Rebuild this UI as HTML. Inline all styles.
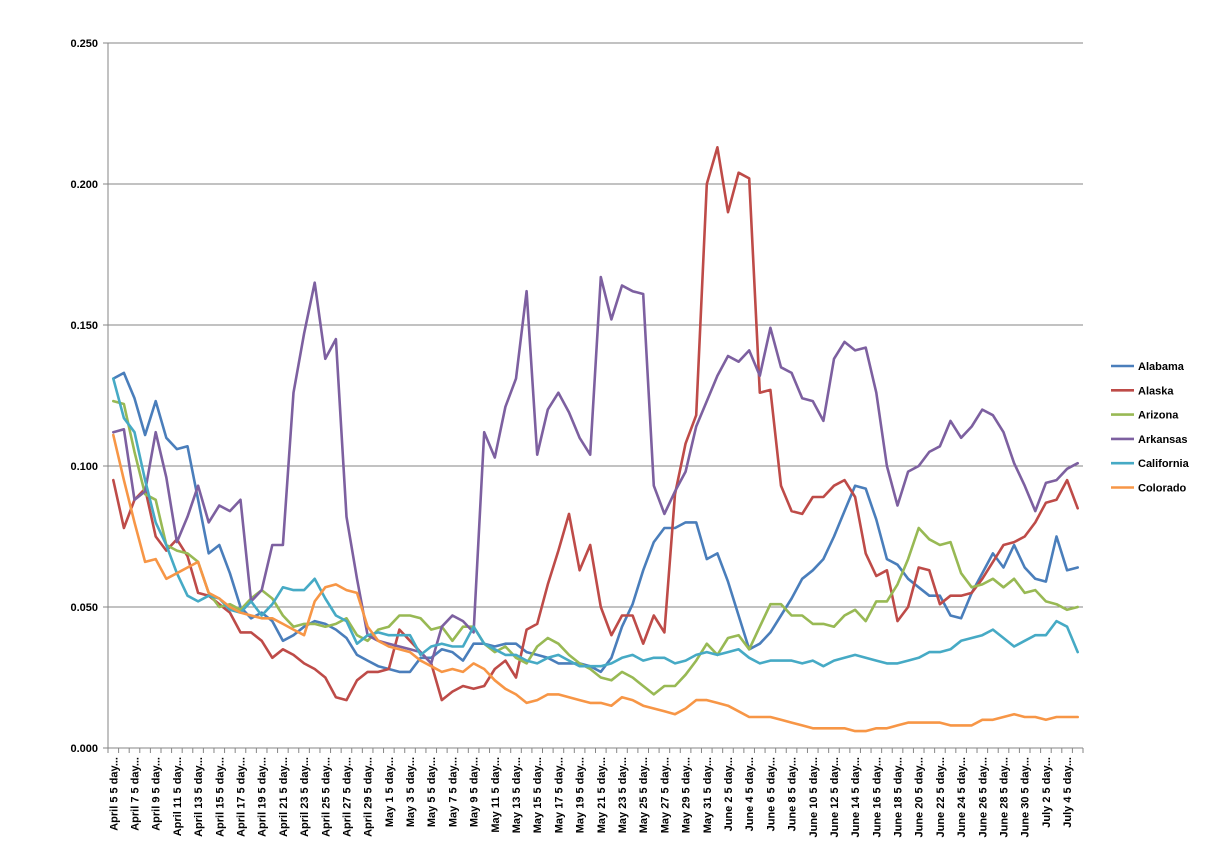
<!DOCTYPE html>
<html><head><meta charset="utf-8"><style>
html,body{margin:0;padding:0;background:#fff;}
svg{display:block;font-family:"Liberation Sans",Arial,sans-serif;}
</style></head><body>
<svg id="c" width="1205" height="849" xmlns="http://www.w3.org/2000/svg"></svg>
<script>
var svg=document.getElementById('c');
var NS='http://www.w3.org/2000/svg';
function el(t,a,txt){var e=document.createElementNS(NS,t);for(var k in a)e.setAttribute(k,a[k]);if(txt!=null)e.textContent=txt;svg.appendChild(e);return e;}
var L=108,R=1083,T=43,B=748,N=92,W=(R-L)/N;
function Y(v){return B-v*2.82;}
// grid
for(var g=1;g<=5;g++){var y=B-g*141;el('line',{x1:L,x2:R,y1:y,y2:y,stroke:'#868686','stroke-width':1});}
el('line',{x1:L,x2:L,y1:T,y2:B,stroke:'#868686'});
el('line',{x1:L-5,x2:R,y1:B,y2:B,stroke:'#868686'});
for(var g=0;g<=5;g++){var y=B-g*141;el('line',{x1:L-5,x2:L,y1:y,y2:y,stroke:'#868686'});
el('text',{x:98,y:y+4,'text-anchor':'end','font-size':11,'font-weight':'bold',fill:'#000'},(g*0.05).toFixed(3));}
for(var i=0;i<=N;i++){var x=L+i*W;el('line',{x1:x,x2:x,y1:B,y2:B+5,stroke:'#868686'});}
// x labels
var labs=[];for(var d=5;d<=29;d+=2)labs.push('April '+d);for(var d=1;d<=31;d+=2)labs.push('May '+d);for(var d=2;d<=30;d+=2)labs.push('June '+d);labs.push('July 2');labs.push('July 4');
for(var k=0;k<labs.length;k++){var cx=L+(2*k+0.5)*W+4;el('text',{x:0,y:0,transform:'translate('+cx+',757) rotate(-90)','text-anchor':'end','font-size':11,'font-weight':'bold',fill:'#000'},labs[k]+' 5 day...');}
var S=[
['Alabama','#4A7EBB',[131,133,124,111,123,110,106,107,88,69,72,62,50,46,48,45,38,40,43,45,44,42,39,33,31,29,28,27,27,32,32,35,34,31,37,37,36,37,37,34,33,32,30,30,30,29,27,32,43,51,63,73,78,78,80,80,67,69,59,47,35,37,41,47,53,60,63,67,75,84,93,92,81,67,65,60,57,54,54,47,46,55,62,69,64,72,64,60,59,75,63,64]],
['Alaska','#BE4B48',[95,78,88,92,75,70,74,68,55,54,51,48,41,41,38,32,35,33,30,28,25,18,17,24,27,27,28,42,38,34,30,17,20,22,21,22,28,31,25,42,44,58,70,83,63,72,50,40,47,47,37,47,41,90,108,118,200,213,190,204,202,126,127,93,84,83,89,89,93,95,89,69,61,63,45,50,64,63,51,54,54,55,60,66,72,73,75,80,87,88,95,85]],
['Arizona','#98B954',[123,122,105,90,88,72,70,69,66,55,50,51,49,53,56,53,47,43,44,44,43,44,46,40,38,42,43,47,47,46,42,43,38,43,43,37,34,36,32,30,36,39,37,33,30,28,25,24,27,25,22,19,22,22,26,31,37,33,39,40,35,43,51,51,47,47,44,44,43,47,49,45,52,52,58,67,78,74,72,73,62,57,58,60,57,60,55,56,52,51,49,50]],
['Arkansas','#7D60A0',[112,113,88,91,112,96,73,82,93,80,86,84,88,52,56,72,72,126,147,165,138,145,82,60,40,38,37,36,35,34,30,43,47,45,41,112,103,121,131,162,104,120,126,119,110,104,167,152,164,162,161,93,83,91,98,114,123,132,139,137,141,132,149,135,133,124,123,116,138,144,141,142,126,100,86,98,100,105,107,116,110,114,120,118,112,101,93,84,94,95,99,101]],
['California','#46AAC5',[131,117,112,95,80,72,62,54,52,54,53,49,48,52,47,51,57,56,56,60,53,47,45,37,40,41,40,40,40,33,36,37,36,36,43,37,35,33,33,31,30,32,33,31,29,29,29,30,32,33,31,32,32,30,31,33,34,33,34,35,32,30,31,31,31,30,31,29,31,32,33,32,31,30,30,31,32,34,34,35,38,39,40,42,39,36,38,40,40,45,43,34]],
['Colorado','#F79646',[111,95,80,66,67,60,62,64,66,55,53,50,48,47,46,46,44,42,40,52,57,58,56,55,43,38,36,35,34,31,29,27,28,27,30,28,24,21,19,16,17,19,19,18,17,16,16,15,18,17,15,14,13,12,14,17,17,16,15,13,11,11,11,10,9,8,7,7,7,7,6,6,7,7,8,9,9,9,9,8,8,8,10,10,11,12,11,11,10,11,11,11]]
];
for(var s=0;s<S.length;s++){var d=S[s][2],p=[];for(var i=0;i<d.length;i++)p.push((L+(i+0.5)*W).toFixed(1)+','+Y(d[i]).toFixed(1));
el('polyline',{points:p.join(' '),fill:'none',stroke:S[s][1],'stroke-width':2.6,'stroke-linejoin':'round','stroke-linecap':'round'});}
for(var s=0;s<S.length;s++){var y=366+s*24.3;el('line',{x1:1111,x2:1134,y1:y,y2:y,stroke:S[s][1],'stroke-width':2.6});
el('text',{x:1138,y:y+4,'font-size':11,'font-weight':'bold',fill:'#000'},S[s][0]);}
</script>
</body></html>
